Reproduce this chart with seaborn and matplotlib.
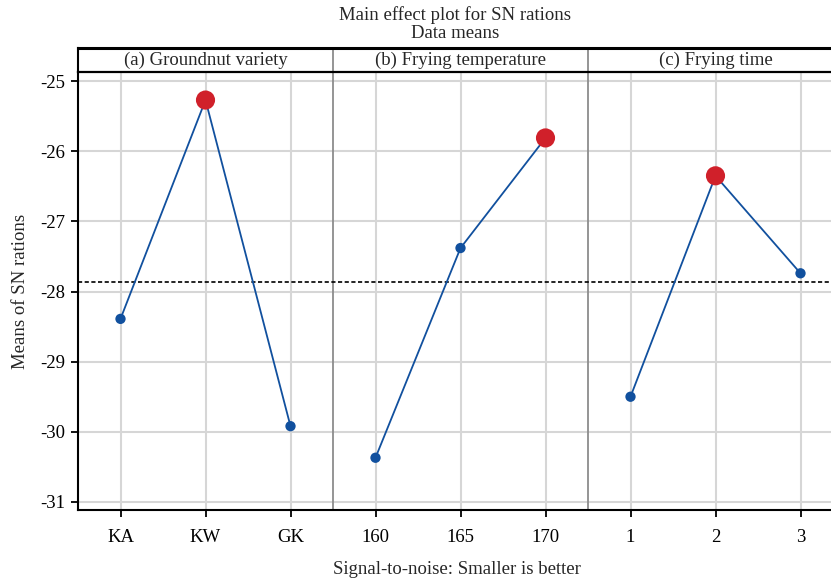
import pandas as pd
import matplotlib.pyplot as plt
import seaborn as sns

# Taguchi main effect data (means of S/N ratios)
variety_levels = ["KA", "KW", "GK"]
variety_sn = [-28.39, -25.27, -29.92]
temp_levels = ["160", "165", "170"]
temp_sn = [-30.37, -27.38, -25.81]
time_levels = ["1", "2", "3"]
time_sn = [-29.50, -26.35, -27.74]
panel_titles = ["(a) Groundnut variety", "(b) Frying temperature", "(c) Frying time"]
grand_mean = -27.86

sns.set_theme(style="white")
plt.rcParams['font.family'] = ['Liberation Serif', 'DejaVu Serif']
fs = 13.5

labels = variety_levels + temp_levels + time_levels
values = variety_sn + temp_sn + time_sn
df = pd.DataFrame({
    "pos": list(range(len(labels))),
    "label": labels,
    "sn": values,
    "factor": [t for t in panel_titles for _ in range(3)],
})

line_col = "#11509e"
best_col = "#d0202a"

W, H = 831, 582
fig = plt.figure(figsize=(W / 100, H / 100), dpi=100)
ax = fig.add_axes([78 / W, (H - 510) / H, (W - 78) / W, (510 - 72) / H])
strip = fig.add_axes([78 / W, (H - 72) / H, (W - 78) / W, (72 - 48) / H])

xmax = (W - 78) / 85 - 0.5
ax.set_xlim(-0.5, xmax)
ax.set_ylim(-31.115, -24.87)

# grid
for p in df["pos"]:
    ax.axvline(p, color="#d6d6d6", lw=1.5, zorder=0)
for yv in range(-31, -24):
    ax.axhline(yv, color="#d6d6d6", lw=1.5, zorder=0)

for name, sub in df.groupby("factor", sort=False):
    sns.lineplot(data=sub, x="pos", y="sn", ax=ax, color=line_col, lw=1.3, zorder=3)
    best = sub[sub["sn"] == sub["sn"].max()]
    rest = sub[sub["sn"] != sub["sn"].max()]
    sns.scatterplot(data=rest, x="pos", y="sn", ax=ax, color=line_col, s=55,
                    edgecolor="none", zorder=4)
    sns.scatterplot(data=best, x="pos", y="sn", ax=ax, color=best_col, s=190,
                    edgecolor="none", zorder=5)

ax.axhline(grand_mean, color="black", lw=1.2, ls=(0, (2.5, 1.5)), zorder=2)

# panel separators
for sep in [2.5, 5.5]:
    ax.axvline(sep, color="#8c8c8c", lw=1.3, zorder=1)
    strip.axvline(sep, color="#8c8c8c", lw=1.3)

ax.set_xticks(df["pos"])
ax.set_xticklabels(df["label"])
ax.set_yticks(range(-31, -24))
ax.set_yticklabels([str(v) for v in range(-31, -24)])
ax.tick_params(axis="both", direction="out", length=5, width=1.3, colors="black",
               labelsize=fs, pad=4, left=True, bottom=True)
ax.tick_params(axis="x", pad=9)
for s in ["top", "right"]:
    ax.spines[s].set_visible(False)
for s in ["left", "bottom"]:
    ax.spines[s].set_color("black")
    ax.spines[s].set_linewidth(1.5)
ax.set_xlabel("")
ax.set_ylabel("Means of SN rations", fontsize=fs, labelpad=8)

# strip header
strip.set_xlim(-0.5, xmax)
strip.set_ylim(0, 1)
strip.set_xticks([])
strip.set_yticks([])
strip.spines["right"].set_visible(False)
strip.spines["top"].set_linewidth(2.2)
strip.spines["bottom"].set_linewidth(1.6)
strip.spines["left"].set_linewidth(1.5)
for s in ["top", "bottom", "left"]:
    strip.spines[s].set_color("black")
for i, t in enumerate(panel_titles):
    strip.text(3 * i + 1, 0.5, t, ha="center", va="center", fontsize=fs)

fig.text(455 / W, 1 - 15 / H, "Main effect plot for SN rations", ha="center", va="center", fontsize=fs)
fig.text(455 / W, 1 - 33 / H, "Data means", ha="center", va="center", fontsize=fs)
fig.text(457 / W, 1 - 570 / H, "Signal-to-noise: Smaller is better", ha="center", va="center", fontsize=fs)

fig.savefig("out.png", dpi=100)
